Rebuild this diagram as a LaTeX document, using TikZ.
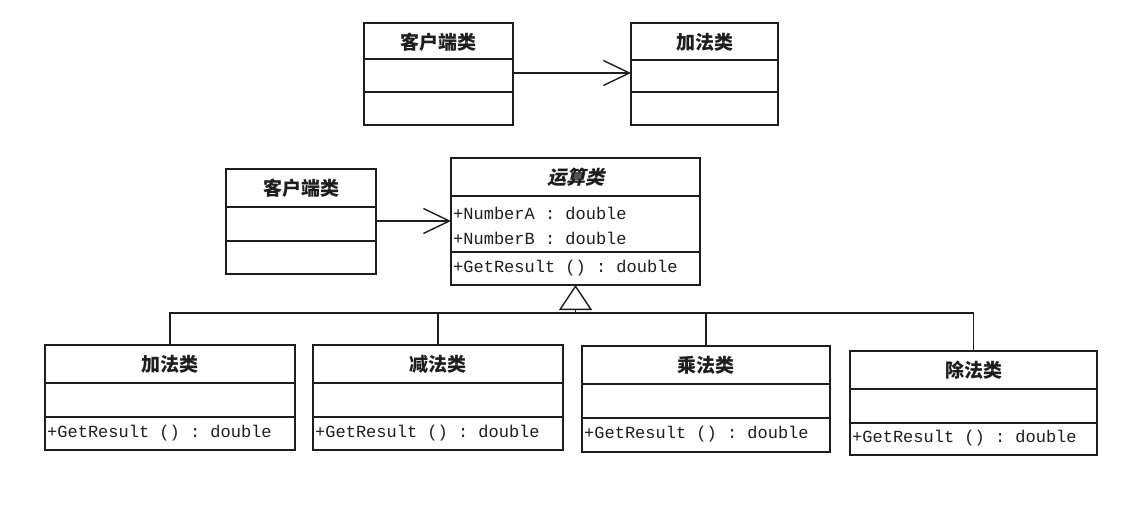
\documentclass[tikz,border=0pt]{standalone}
\usepackage{fontspec}
\usetikzlibrary{arrows.meta}
\newfontfamily\cjk{Noto Sans CJK SC}
\newfontfamily\cjksl[FakeSlant=0.25]{Noto Sans CJK SC}
\setmonofont{Liberation Mono}
\definecolor{ink}{HTML}{1E1E1E}
\tikzset{
  umlbox/.style={draw=ink, line width=1.4pt, anchor=north west, inner sep=0pt, outer sep=0pt},
  sepline/.style={draw=ink, line width=1.4pt},
  ctitle/.style={font=\cjk\bfseries\fontsize{19}{19}\selectfont, text=ink, inner sep=0pt},
  ctitleit/.style={font=\cjksl\bfseries\fontsize{19}{19}\selectfont, text=ink, inner sep=0pt},
  member/.style={font=\ttfamily\fontsize{17}{17}\selectfont, text=ink, anchor=west, inner sep=0pt},
  assoc/.style={draw=ink, line width=1.2pt, -{Straight Barb[length=26pt,width=25pt,line width=1.4pt]}},
  gen/.style={draw=ink, line width=1.2pt},
  genarrow/.style={draw=ink, line width=1.2pt, -{Triangle[open,length=25pt,width=33pt,line width=1.4pt]}}
}
\begin{document}
\begin{tikzpicture}[x=1pt,y=-1pt]
\useasboundingbox[fill=white] (0,0) rectangle (1124,508);

% top client
\node[umlbox, minimum width=149pt, minimum height=102pt] (cA) at (364,23) {};
\draw[sepline] (cA.west |- 0,59) -- (cA.east |- 0,59);
\draw[sepline] (cA.west |- 0,92) -- (cA.east |- 0,92);
\node[ctitle] (cAt) at (cA.center |- 0,42) {客户端类};

% top add
\node[umlbox, minimum width=147pt, minimum height=102pt] (aT) at (631,23) {};
\draw[sepline] (aT.west |- 0,60) -- (aT.east |- 0,60);
\draw[sepline] (aT.west |- 0,92) -- (aT.east |- 0,92);
\node[ctitle] (aTt) at (aT.center |- 0,42) {加法类};

\draw[assoc] (cA.east |- 0,73) coordinate (p1) -- (aT.west |- p1);

% middle client
\node[umlbox, minimum width=150pt, minimum height=105pt] (cB) at (226,169) {};
\draw[sepline] (cB.west |- 0,207) -- (cB.east |- 0,207);
\draw[sepline] (cB.west |- 0,241) -- (cB.east |- 0,241);
\node[ctitle] (cBt) at (cB.center |- 0,188) {客户端类};

% operation
\node[umlbox, minimum width=249pt, minimum height=127pt] (op) at (451,158) {};
\draw[sepline] (op.west |- 0,196) -- (op.east |- 0,196);
\draw[sepline] (op.west |- 0,252) -- (op.east |- 0,252);
\node[ctitleit] (opt) at (op.center |- 0,177) {运算类};
\node[member] (opa) at (453,213) {+NumberA : double};
\node[member] (opb) at (453,238) {+NumberB : double};
\node[member] (opm) at (453,268) {+GetResult () : double};

\draw[assoc] (cB.east |- 0,221) coordinate (p2) -- (op.west |- p2);

% subclasses
\node[umlbox, minimum width=250pt, minimum height=105pt] (add) at (45,345) {};
\draw[sepline] (add.west |- 0,383) -- (add.east |- 0,383);
\draw[sepline] (add.west |- 0,417) -- (add.east |- 0,417);
\node[ctitle] (addt) at (add.center |- 0,364) {加法类};
\node[member] (addm) at (47,433) {+GetResult () : double};

\node[umlbox, minimum width=250pt, minimum height=105pt] (sub) at (313,345) {};
\draw[sepline] (sub.west |- 0,383) -- (sub.east |- 0,383);
\draw[sepline] (sub.west |- 0,417) -- (sub.east |- 0,417);
\node[ctitle] (subt) at (sub.center |- 0,364) {减法类};
\node[member] (subm) at (315,433) {+GetResult () : double};

\node[umlbox, minimum width=248pt, minimum height=106pt] (mul) at (582,346) {};
\draw[sepline] (mul.west |- 0,384) -- (mul.east |- 0,384);
\draw[sepline] (mul.west |- 0,418) -- (mul.east |- 0,418);
\node[ctitle] (mult) at (mul.center |- 0,365) {乘法类};
\node[member] (mulm) at (584,434) {+GetResult () : double};

\node[umlbox, minimum width=247pt, minimum height=104pt] (div) at (850,351) {};
\draw[sepline] (div.west |- 0,389) -- (div.east |- 0,389);
\draw[sepline] (div.west |- 0,423) -- (div.east |- 0,423);
\node[ctitle] (divt) at (div.center |- 0,370) {除法类};
\node[member] (divm) at (852,438) {+GetResult () : double};

% generalization
\coordinate (j) at (op.south |- 0,313);
\draw[gen] (add.north) |- (div.north |- j) -- (div.north);
\draw[gen] (sub.north) -- (sub.north |- j);
\draw[gen] (mul.north) -- (mul.north |- j);
\draw[genarrow] (j) -- (op.south);
\end{tikzpicture}
\end{document}
